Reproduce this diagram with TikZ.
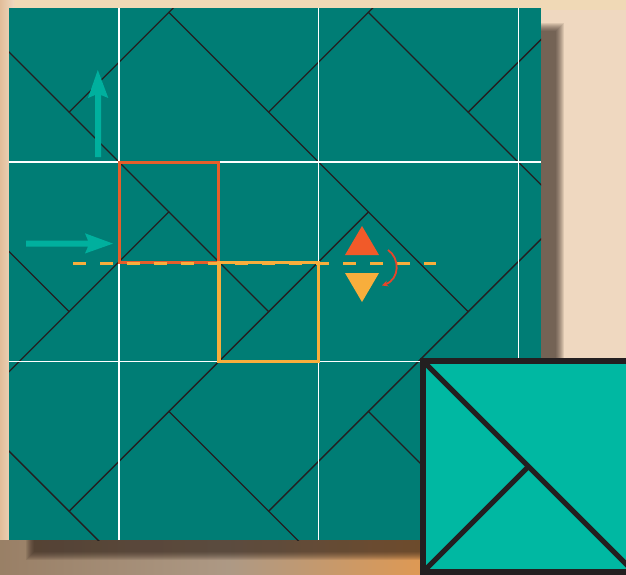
\documentclass[tikz,border=0pt]{standalone}
\usetikzlibrary{arrows.meta}
\definecolor{bgbeige}{HTML}{EFD8C0}
\definecolor{bgtop}{HTML}{F0D9B6}
\definecolor{tealbg}{HTML}{007D75}
\definecolor{tealarrow}{HTML}{00B09E}
\definecolor{insetfill}{HTML}{00B8A2}
\definecolor{ink}{HTML}{231F20}
\definecolor{orangeR}{HTML}{E65E2A}
\definecolor{yellowO}{HTML}{F8AE3C}
\definecolor{redF}{HTML}{F15A29}
\definecolor{redarc}{HTML}{E8452A}
\definecolor{shadowc}{HTML}{2E2018}
\begin{document}
\begin{tikzpicture}[x=1pt,y=-1pt,
  blk/.style={ink,line width=1.4pt,line cap=round},
  gridline/.style={white,line width=1.5pt},
  thickink/.style={ink,line width=5.5pt}]
\useasboundingbox (0,0) rectangle (626,574);
\clip (0,0) rectangle (626,574);
% background
\fill[bgbeige] (0,0) rectangle (626,574);
\fill[bgtop] (0,0) rectangle (626,10);
\shade[left color=bgbeige!70!brown, right color=bgbeige] (0,0) rectangle (14,540);
\shade[left color=brown!40!gray, right color=gray!60!brown!80!white] (0,540) rectangle (230,574);
\shade[left color=gray!60!brown!80!white, right color=orange!40!brown!80!white] (230,540) rectangle (430,574);
% shadow
\foreach \k in {0,...,8}{
  \fill[shadowc,opacity=0.1] ({26+\k},{23+\k}) rectangle ({564-\k},{560-\k});
}
% teal square
\fill[tealbg] (9,8) rectangle (541,540);
% tiling lines
\begin{scope}
\clip (9,8) rectangle (541,540);
\foreach \X in {-80.5,119,318.5,518.25}{
  \foreach \Y in {-37.5,361.5}{
    \draw[blk] (\X,{\Y+99.75}) -- ({\X+99.75},\Y);
    \draw[blk] ({\X+99.75},{\Y+99.75}) -- ({\X+49.875},{\Y+49.875});
    \draw[blk] ({\X+99.75},{\Y+99.75}) -- ({\X+199.5},{\Y+199.5});
    \draw[blk] ({\X+199.5},{\Y+99.75}) -- ({\X+149.625},{\Y+149.625});
  }
  \draw[blk] (\X,162) -- ({\X+99.75},261.75);
  \draw[blk] (\X,261.75) -- ({\X+49.875},211.875);
  \draw[blk] ({\X+99.75},361.5) -- ({\X+199.5},261.75);
  \draw[blk] ({\X+99.75},261.75) -- ({\X+149.625},311.625);
}
% white grid
\foreach \gx in {119,318.5,518.25}{
  \draw[gridline] (\gx,8) -- (\gx,540);
}
\foreach \gy in {162,361.5}{
  \draw[gridline] (9,\gy) -- (541,\gy);
}
\end{scope}
% orange and yellow squares
\draw[orangeR,line width=3pt] (119,162) rectangle (218.75,262.5);
\draw[yellowO,line width=3.8pt] (218.75,262.5) rectangle (318.5,361.5);
% dashed fold line
\draw[yellowO,line width=3.5pt,dash pattern=on 13pt off 14pt] (73,263.5) -- (436,263.5);
% flip symbol
\fill[redF] (362,226) -- (379,255) -- (345,255) -- cycle;
\fill[yellowO] (345,273) -- (379,273) -- (362,302) -- cycle;
\coordinate (arcstart) at (388,250);
\coordinate (arcend) at (382,285.5);
\draw[redarc,line width=1.8pt,-{Stealth[length=6pt,width=6pt]}] (arcstart) .. controls (400,258) and (400,279) .. (arcend);
% teal arrows
\fill[tealarrow] (95,157) -- (95,95) -- (88,98) -- (97.8,70) -- (108.3,98) -- (101,95) -- (101,157) -- cycle;
\fill[tealarrow] (26,240.5) -- (88,240.5) -- (85,233.3) -- (113,243.6) -- (85,253.5) -- (88,246.5) -- (26,246.5) -- cycle;
% inset tile
\fill[insetfill] (423,361) rectangle (634,572);
\draw[thickink,line width=5pt] (423,361) -- (634,572);
\draw[thickink,line width=5pt] (423,572) -- (528.5,466.5);
\draw[thickink] (423,361) rectangle (634,572);
\end{tikzpicture}
\end{document}
